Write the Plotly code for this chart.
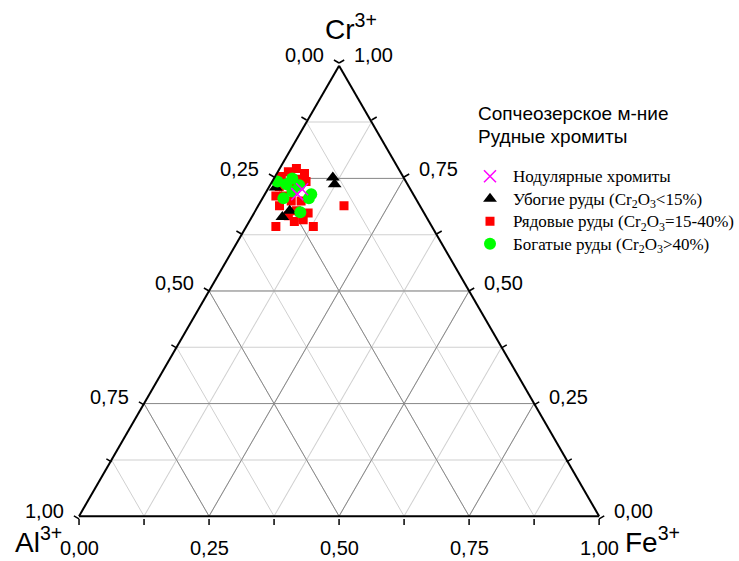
import math
import plotly.graph_objects as go

# ---- data: cation fractions (Cr3+, Al3+, Fe3+) ----
nod_cr = [0.715, 0.726]
nod_al = [0.223, 0.208]
nod_fe = [0.062, 0.066]

poor_cr = [0.752, 0.737, 0.664, 0.678, 0.730]
poor_al = [0.136, 0.140, 0.277, 0.256, 0.257]
poor_fe = [0.112, 0.123, 0.059, 0.066, 0.013]

ord_cr = [0.772, 0.765, 0.761, 0.754, 0.743, 0.732, 0.711, 0.700, 0.700, 0.689, 0.678,
          0.673, 0.667, 0.643, 0.643, 0.689, 0.658, 0.654, 0.732, 0.748, 0.711]
ord_al = [0.196, 0.215, 0.186, 0.234, 0.192, 0.249, 0.251, 0.242, 0.223, 0.270, 0.243,
          0.223, 0.264, 0.300, 0.228, 0.146, 0.240, 0.259, 0.226, 0.204, 0.266]
ord_fe = [0.032, 0.020, 0.053, 0.012, 0.065, 0.019, 0.038, 0.058, 0.077, 0.041, 0.079,
          0.104, 0.069, 0.057, 0.129, 0.165, 0.102, 0.087, 0.042, 0.048, 0.023]

rich_cr = [0.743, 0.750, 0.735, 0.721, 0.715, 0.706, 0.675, 0.737, 0.706]
rich_al = [0.247, 0.215, 0.209, 0.229, 0.196, 0.254, 0.237, 0.233, 0.205]
rich_fe = [0.010, 0.035, 0.056, 0.050, 0.089, 0.040, 0.088, 0.030, 0.089]

# ---- axis ticks ----
tick_vals = [i / 8 for i in range(9)]          # minor + major tick positions
label_vals = [0.0, 0.25, 0.50, 0.75, 1.0]       # labelled ticks
major_levels = [0.25, 0.50, 0.75]


def fmt(v):
    return f"{v:.2f}".replace(".", ",")


LABEL_FONT = "Liberation Sans, Arial, sans-serif"
SERIF_FONT = "Liberation Serif, Times New Roman, serif"

# ---- page / triangle geometry (pixels) ----
W, H = 739, 561
X0, Y0, TW = 80.0, 63.0, 526.5
TH = TW * math.sqrt(3) / 2
TOP = (X0 + TW / 2, Y0)
LEFT = (X0, Y0 + TH)
RIGHT = (X0 + TW, Y0 + TH)
S3 = math.sqrt(3) / 2
TICK_LEN = 6
LABEL_GAP = 15


def px(x, y):
    """pixel -> paper coordinates"""
    return x / W, 1 - y / H


def along(p, q, t):
    return p[0] + t * (q[0] - p[0]), p[1] + t * (q[1] - p[1])


# each edge: start, end, outward normal (screen coords), label anchors
edges = [
    (TOP, LEFT, (-S3, -0.5), "right", "middle"),   # Al3+ fraction, 0 at top
    (LEFT, RIGHT, (0.0, 1.0), "center", "top"),    # Fe3+ fraction, 0 at Al corner
    (RIGHT, TOP, (S3, -0.5), "left", "middle"),    # Cr3+ fraction, 0 at Fe corner
]

shapes, annotations = [], []
for start, end, (nx, ny), xa, ya in edges:
    for v in tick_vals:
        x, y = along(start, end, v)
        x1, y1 = px(x, y)
        x2, y2 = px(x + nx * TICK_LEN, y + ny * TICK_LEN)
        shapes.append(dict(type="line", xref="paper", yref="paper",
                           x0=x1, y0=y1, x1=x2, y1=y2,
                           line=dict(color="#000000", width=1.5)))
    for v in label_vals:
        x, y = along(start, end, v)
        gap = LABEL_GAP if ya == "middle" else 16
        lx, ly = px(x + nx * gap, y + ny * gap)
        annotations.append(dict(text=fmt(v), x=lx, y=ly, xref="paper", yref="paper",
                                xanchor=xa, yanchor=ya, showarrow=False,
                                font=dict(family=LABEL_FONT, size=20, color="#000000")))

fig = go.Figure()

# darker major grid lines (every 0.25) on top of the light minor grid
ga, gb, gc = [], [], []
for v in major_levels:
    w = 1 - v
    ga += [v, v, None]; gb += [w, 0, None]; gc += [0, w, None]      # Cr = const
    ga += [w, 0, None]; gb += [v, v, None]; gc += [0, w, None]      # Al = const
    ga += [w, 0, None]; gb += [0, w, None]; gc += [v, v, None]      # Fe = const
fig.add_trace(go.Scatterternary(a=ga, b=gb, c=gc, mode="lines",
                                line=dict(color="#8a8a8a", width=1),
                                hoverinfo="skip", showlegend=False))


def entry(text):
    return f'<span style="font-size:17px">{text}</span>'


fig.add_trace(go.Scatterternary(
    a=ord_cr, b=ord_al, c=ord_fe, mode="markers",
    name=entry("Рядовые руды (Cr<sub>2</sub>O<sub>3</sub>=15-40%)"),
    marker=dict(symbol="square", size=9, color="#ff0000"),
    legendrank=3))
fig.add_trace(go.Scatterternary(
    a=poor_cr, b=poor_al, c=poor_fe, mode="markers",
    name=entry("Убогие руды (Cr<sub>2</sub>O<sub>3</sub>&lt;15%)"),
    marker=dict(symbol="triangle-up", size=12, color="#000000"),
    legendrank=2))
fig.add_trace(go.Scatterternary(
    a=rich_cr, b=rich_al, c=rich_fe, mode="markers",
    name=entry("Богатые руды (Cr<sub>2</sub>O<sub>3</sub>&gt;40%)"),
    marker=dict(symbol="circle", size=12, color="#00ff00"),
    legendrank=4))
fig.add_trace(go.Scatterternary(
    a=nod_cr, b=nod_al, c=nod_fe, mode="markers",
    name=entry("Нодулярные хромиты"),
    marker=dict(symbol="x-thin-open", size=12, color="#ff00ff",
                line=dict(color="#ff00ff", width=1.5)),
    legendrank=1))

axis_common = dict(
    tickmode="array", tickvals=tick_vals,
    ticks="", showticklabels=False,
    showline=True, linecolor="#000000", linewidth=2,
    showgrid=True, gridcolor="#d0d0d0", gridwidth=1,
    title=dict(text=""), min=0,
)

title_font = dict(family=LABEL_FONT, size=28, color="#000000")
header_font = dict(family=LABEL_FONT, size=19, color="#000000")
annotations += [
    dict(text="Cr<sup>3+</sup>", x=355 / W, y=1 - 27 / H, xref="paper", yref="paper",
         xanchor="center", yanchor="middle", showarrow=False, font=title_font),
    dict(text="Al<sup>3+</sup>", x=39 / W, y=1 - 540 / H, xref="paper", yref="paper",
         xanchor="center", yanchor="middle", showarrow=False, font=title_font),
    dict(text="Fe<sup>3+</sup>", x=661 / W, y=1 - 540 / H, xref="paper", yref="paper",
         xanchor="center", yanchor="middle", showarrow=False, font=title_font),
    dict(text="Сопчеозерское м-ние", x=482 / W, y=1 - 113 / H, xref="paper", yref="paper",
         xanchor="left", yanchor="middle", showarrow=False, font=header_font),
    dict(text="Рудные хромиты", x=482 / W, y=1 - 137 / H, xref="paper", yref="paper",
         xanchor="left", yanchor="middle", showarrow=False, font=header_font),
]

fig.update_layout(
    width=W, height=H,
    margin=dict(l=0, r=0, t=0, b=0),
    paper_bgcolor="white",
    ternary=dict(
        sum=1,
        bgcolor="white",
        domain=dict(x=[X0 / W, (X0 + TW) / W], y=[1 - (Y0 + TH) / H, 1 - Y0 / H]),
        aaxis=axis_common, baxis=axis_common, caxis=axis_common,
    ),
    showlegend=True,
    legend=dict(
        x=473 / W, y=1 - 160 / H, xanchor="left", yanchor="top",
        bgcolor="rgba(0,0,0,0)", borderwidth=0,
        font=dict(family=SERIF_FONT, size=15, color="#000000"),
        itemsizing="trace", itemwidth=36, tracegroupgap=0,
    ),
    shapes=shapes,
    annotations=annotations,
)

fig.write_html("out.html")
